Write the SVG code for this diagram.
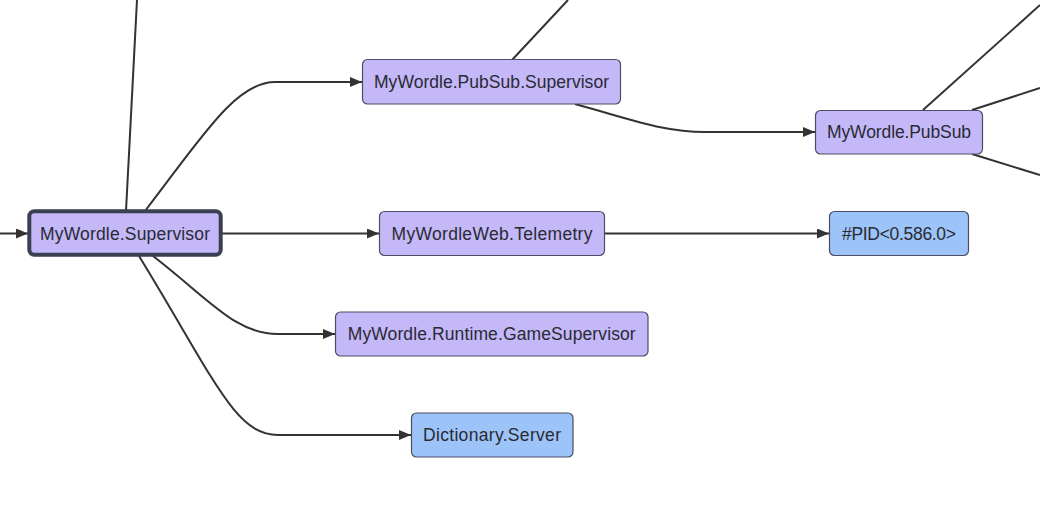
<svg xmlns="http://www.w3.org/2000/svg" width="1040" height="506" viewBox="0 0 1040 506">
<style>
.n rect{fill:#c4b8f8;stroke:#4a4d63;stroke-width:1.2}
.n.b rect{fill:#9cc4f8}
.n.main rect{stroke:#3a3f52;stroke-width:4}
.n text{font-family:"Liberation Sans",Arial,sans-serif;font-size:17.5px;fill:#2a2a33;text-anchor:middle;dominant-baseline:central}
.e path{fill:none;stroke:#333;stroke-width:2}
</style>
<defs>
<marker id="ah" viewBox="0 0 12 10" refX="12" refY="5" markerWidth="12" markerHeight="10" markerUnits="userSpaceOnUse" orient="auto">
<path d="M0,0 L12,5 L0,10 z" fill="#333"/>
</marker>
</defs>
<rect width="1040" height="506" fill="#fff"/>
<g id="connectors" class="e">
<path d="M0,233.5 L28,233.5" marker-end="url(#ah)"/>
<path d="M126,211 L137,0"/>
<path d="M145,211 C200,140 235,82 275,82 L362,82" marker-end="url(#ah)"/>
<path d="M221,233.5 L379,233.5" marker-end="url(#ah)"/>
<path d="M153,256 C210,300 235,334 278,334 L335,334" marker-end="url(#ah)"/>
<path d="M139,256 C215,380 235,435 278,435 L411,435" marker-end="url(#ah)"/>
<path d="M512,60 L568,0"/>
<path d="M575,104 C640,122 665,132 705,132 L815,132" marker-end="url(#ah)"/>
<path d="M604,233.5 L829,233.5" marker-end="url(#ah)"/>
<path d="M923,110 L1040,5"/>
<path d="M972,110 L1040,88"/>
<path d="M972,154 L1040,175"/>
</g>
<g id="n-supervisor" class="n main"><rect x="29.3" y="211.3" width="191.4" height="43.4" rx="5"/><text x="125" y="233.5" textLength="170">MyWordle.Supervisor</text></g>
<g id="n-pubsub-supervisor" class="n"><rect x="362.5" y="59.5" width="258" height="44.5" rx="5"/><text x="491.5" y="82" textLength="235">MyWordle.PubSub.Supervisor</text></g>
<g id="n-pubsub" class="n"><rect x="815.5" y="110.5" width="167" height="43.5" rx="5"/><text x="899" y="132" textLength="144">MyWordle.PubSub</text></g>
<g id="n-telemetry" class="n"><rect x="379.5" y="211.5" width="225" height="44" rx="5"/><text x="492" y="233.5" textLength="201">MyWordleWeb.Telemetry</text></g>
<g id="n-pid" class="n b"><rect x="829.5" y="211.5" width="139" height="44" rx="5"/><text x="899" y="233.5" textLength="114">#PID&lt;0.586.0&gt;</text></g>
<g id="n-gamesupervisor" class="n"><rect x="335.5" y="312" width="312.5" height="44" rx="5"/><text x="491.7" y="334" textLength="288">MyWordle.Runtime.GameSupervisor</text></g>
<g id="n-dictionary" class="n b"><rect x="411.5" y="413" width="161.5" height="44" rx="5"/><text x="492" y="435" textLength="138">Dictionary.Server</text></g>
</svg>
